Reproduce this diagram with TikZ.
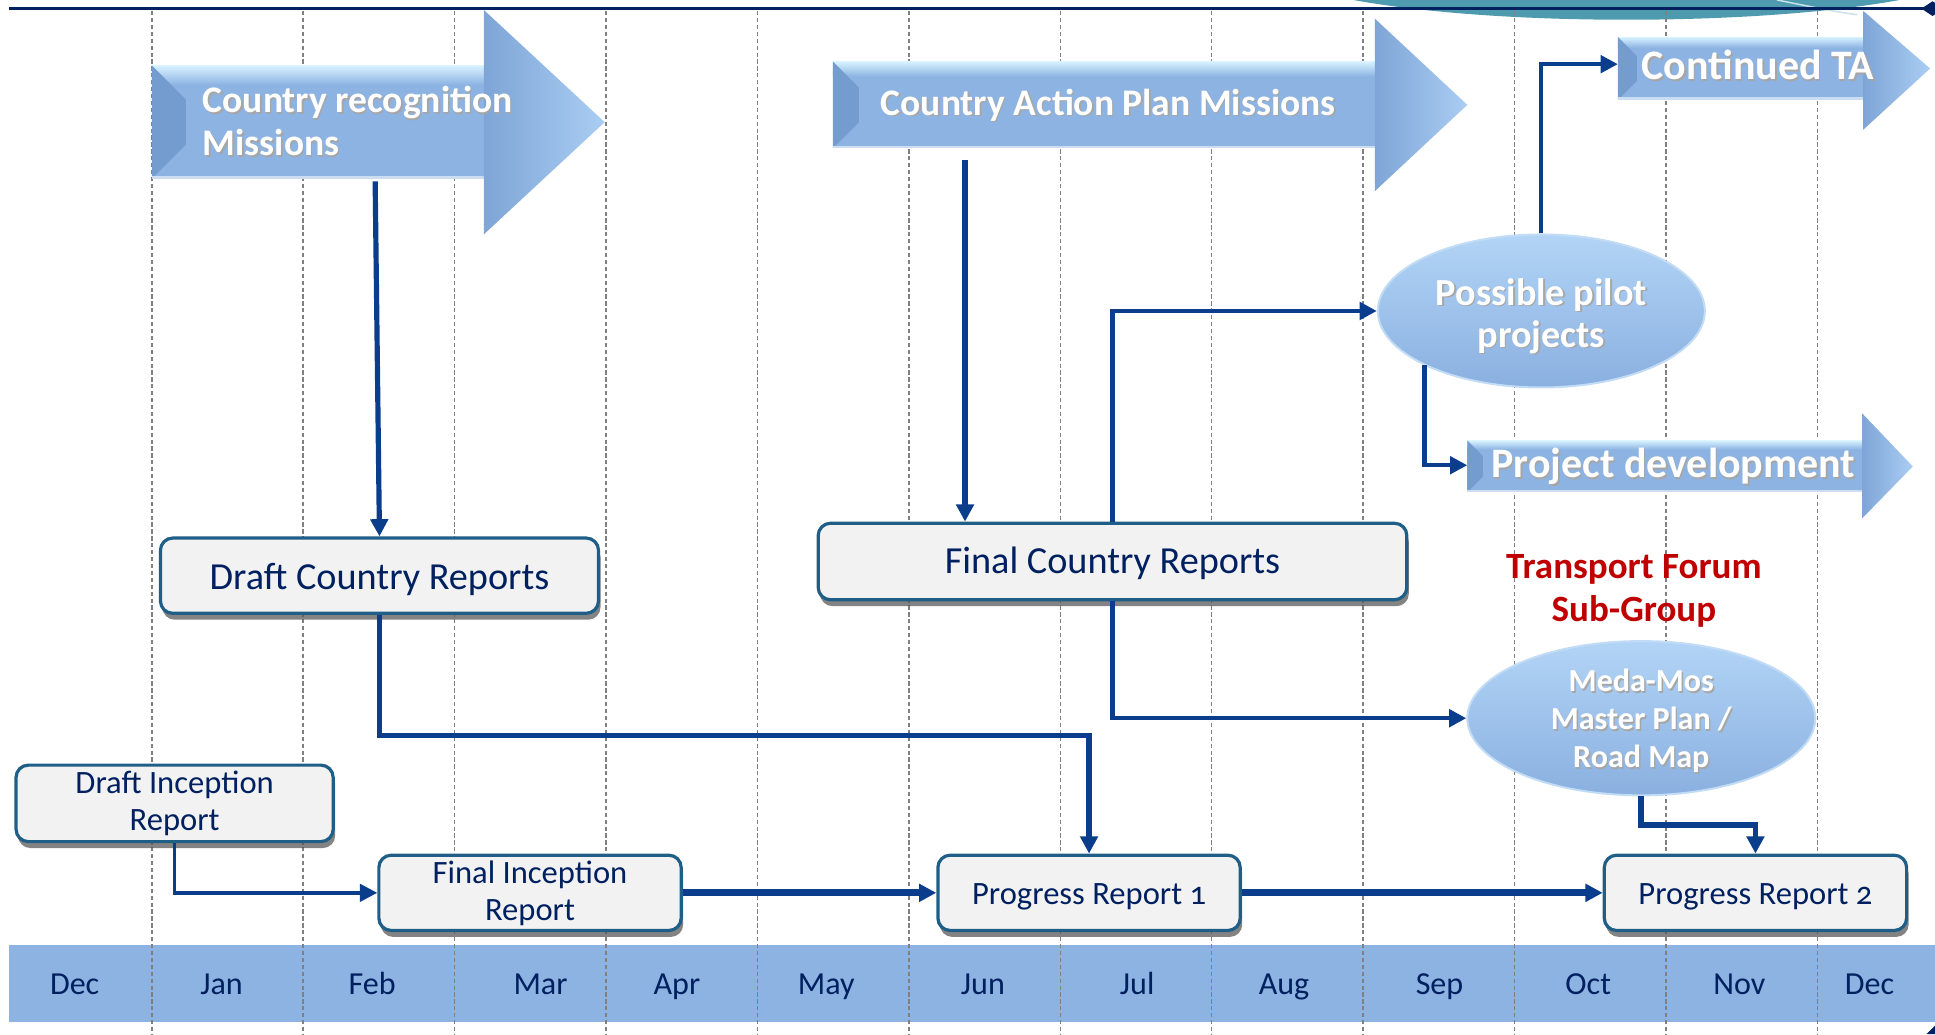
\documentclass[tikz,border=0pt]{standalone}
\usepackage{fontspec}
\setmainfont{Carlito}
\usetikzlibrary{arrows.meta,shapes.geometric,shadows,calc}

\definecolor{navy}{RGB}{0,32,96}
\definecolor{connc}{RGB}{10,62,140}
\definecolor{boxborder}{RGB}{31,95,135}
\definecolor{boxfill}{RGB}{242,242,242}
\definecolor{monthbar}{RGB}{141,179,226}
\definecolor{arrowblue}{RGB}{141,179,226}
\definecolor{arrowhl}{RGB}{215,242,255}
\definecolor{arrowdark}{RGB}{116,156,206}
\definecolor{headdark}{RGB}{126,165,214}
\definecolor{arrowlight}{RGB}{170,205,243}
\definecolor{elltop}{RGB}{178,212,246}
\definecolor{ellbot}{RGB}{138,176,224}
\definecolor{ellrim}{RGB}{195,220,245}
\definecolor{darkred}{RGB}{192,0,0}
\definecolor{gridc}{RGB}{128,128,128}
\definecolor{tealc}{RGB}{78,155,176}

\newcommand{\myarrow}[8]{%
  \pgfmathsetmacro{\ym}{(#5+#6)/2}%
  \pgfmathsetmacro{\bv}{0.3*(#6-#5)}%
  \pgfmathsetmacro{\hh}{#5+0.17*(#6-#5)}%
  \fill[arrowblue] (#2,#5) rectangle (#3,#6);
  \shade[top color=arrowhl, bottom color=arrowblue] (#2,#5) rectangle (#3,\hh);
  \fill[arrowdark] (#2,#5) -- ({#2+\bv},{#5+\bv}) -- ({#2+\bv},{#6-\bv}) -- (#2,#6) -- cycle;
  \fill[white!55!arrowblue] (#2,{#6-2}) rectangle (#3,#6);
  \shade[left color=headdark, right color=arrowlight] (#3,#7) -- (#4,\ym) -- (#3,#8) -- cycle;
}

\begin{document}
\begin{tikzpicture}[x=0.5pt,y=-0.5pt,
  conn/.style={draw=connc, line width=2.1pt, -{Triangle[length=7pt,width=7pt]}},
  rbox/.style={draw=boxborder, line width=1.3pt, fill=boxfill, rounded corners=5pt,
     text=navy, inner sep=0pt, align=center,
     drop shadow={shadow xshift=0.8pt, shadow yshift=-2.6pt, fill=black!65, opacity=0.75}},
  ell/.style={ellipse, inner sep=0pt, top color=elltop, bottom color=ellbot, draw=ellrim, line width=0.8pt},
  wtxt/.style={text=white, font=\bfseries, align=center, inner sep=0pt},
  stxt/.style={text=black!35, font=\bfseries, align=center, inner sep=0pt},
  month/.style={text=navy, font=\fontsize{13}{15}\selectfont, anchor=base, inner sep=0pt},
  gridline/.style={draw=gridc, line width=0.6pt, dash pattern=on 1.7pt off 1.1pt}
]
\useasboundingbox (0,0) rectangle (1568,838);

% top decoration
\fill[tealc] (1318,-30) ellipse [x radius=146pt, y radius=23pt];
\draw[white!70!tealc, line width=0.6pt] (1440,0) .. controls (1470,6) and (1490,10) .. (1505,12);

% month bar
\fill[monthbar] (7,766) rectangle (1568,828);

% grid
\foreach \k in {0,...,11} {
  \draw[gridline] ({123+122.7*\k},9) -- ({123+122.7*\k},838);
}

% top line
\draw[navy, line width=1.4pt] (7,7) -- (1568,7);
\fill[navy] (1557,7) -- (1566,1) -- (1575,7) -- (1566,13) -- cycle;
\fill[navy] (1561,838) -- (1568,831) -- (1568,838) -- cycle;

% months
\foreach \m/\x in {Dec/60.5,Jan/179.5,Feb/301.5,Mar/438,Apr/548.5,May/669.5,Jun/796.5,Jul/921.5,Aug/1040.5,Sep/1166.5,Oct/1287,Nov/1409.5,Dec/1515}
  \node[month] (m-\x) at (\x,806) {\m};

% big arrows
\myarrow{crm}{123}{392}{490}{53}{145}{8}{190}
\myarrow{cap}{675}{1114}{1189}{50}{120}{15}{155}
\myarrow{cta}{1311}{1510}{1564}{30}{81}{9}{105}
\myarrow{pd}{1189}{1509}{1550}{357}{399}{335}{420}

\coordinate (crm-s) at (304,147);
\coordinate (cap-s) at (782,130);
\coordinate (cta-w) at (1311,52);
\coordinate (pd-w) at (1189,377);

% arrow texts
\node[stxt, anchor=west, align=left, font=\bfseries\fontsize{15.2}{17.5}\selectfont] (crm-ts) at (165.2,99.5) {Country recognition\\Missions};
\node[wtxt, anchor=west, align=left, font=\bfseries\fontsize{15.2}{17.5}\selectfont] (crm-t) at (164,98) {Country recognition\\Missions};
\node[stxt, font=\bfseries\fontsize{15.2}{17.5}\selectfont] (cap-ts) at (899.2,86.5) {Country Action Plan Missions};
\node[wtxt, font=\bfseries\fontsize{15.2}{17.5}\selectfont] (cap-t) at (898,85) {Country Action Plan Missions};
\node[stxt, font=\bfseries\fontsize{17}{19}\selectfont] (cta-ts) at (1425.7,54.5) {Continued TA};
\node[wtxt, font=\bfseries\fontsize{17}{19}\selectfont] (cta-t) at (1424.5,53) {Continued TA};
\node[stxt, font=\bfseries\fontsize{17}{19}\selectfont] (pd-ts) at (1357.2,379.5) {Project development};
\node[wtxt, font=\bfseries\fontsize{17}{19}\selectfont] (pd-t) at (1356,378) {Project development};

% boxes
\node[rbox, minimum width=177.5pt, minimum height=30.5pt, font=\fontsize{15.5}{18}\selectfont] (dcr) at (307.5,466.5) {\raisebox{-5.6pt}[0pt][0pt]{Draft Country Reports}};
\node[rbox, minimum width=238.5pt, minimum height=31pt, font=\fontsize{15.5}{18}\selectfont] (fcr) at (901.5,455) {\raisebox{-5pt}[0pt][0pt]{Final Country Reports}};
\node[rbox, minimum width=128.5pt, minimum height=31pt, font=\fontsize{13.2}{15}\selectfont] (dir) at (141.5,651) {Draft Inception\\Report};
\node[rbox, minimum width=122.5pt, minimum height=30.5pt, font=\fontsize{13.2}{15}\selectfont] (fir) at (429.5,723.5) {Final Inception\\Report};
\node[rbox, minimum width=122.5pt, minimum height=30.5pt, font=\fontsize{13.2}{15}\selectfont\addfontfeature{Numbers=OldStyle}] (pr1) at (882.5,723.5) {\raisebox{-4.7pt}[0pt][0pt]{Progress Report 1}};
\node[rbox, minimum width=122.5pt, minimum height=30.5pt, font=\fontsize{13.2}{15}\selectfont\addfontfeature{Numbers=OldStyle}] (pr2) at (1422.5,723.5) {\raisebox{-4.7pt}[0pt][0pt]{Progress Report 2}};

% ellipses
\node[ell, minimum width=132.5pt, minimum height=62pt] (pilot) at (1249,252) {};
\node[ell, minimum width=141pt, minimum height=62.5pt] (meda) at (1330,582) {};
\node[stxt, font=\bfseries\fontsize{15.5}{17}\selectfont] (pilot-ts) at (1250.2,257.5) {Possible pilot\\projects};
\node[wtxt, font=\bfseries\fontsize{15.5}{17}\selectfont] (pilot-t) at (1249,256) {Possible pilot\\projects};
\node[stxt, font=\bfseries\fontsize{13}{15.5}\selectfont] (meda-ts) at (1331.2,585.5) {Meda-Mos\\Master Plan /\\Road Map};
\node[wtxt, font=\bfseries\fontsize{13}{15.5}\selectfont] (meda-t) at (1330,584) {Meda-Mos\\Master Plan /\\Road Map};

% transport forum label
\node[text=darkred, font=\bfseries\fontsize{15}{17.5}\selectfont, align=center, inner sep=0pt] (tf) at (1324,479) {Transport Forum\\Sub-Group};

% connectors
\draw[conn] (crm-s) -- (dcr.north);
\draw[conn] (cap-s) -- (cap-s |- fcr.north);
\draw[conn] (dcr.south) -- ++(0,98) -| (pr1.north);
\draw[conn, line width=1.8pt] (fcr.north) |- (pilot.west);
\draw[conn, line width=1.8pt] (fcr.south) |- (meda.west);
\draw[conn, line width=1.7pt] (pilot.north) |- (cta-w);
\draw[conn, line width=1.7pt] (pilot.205) |- (pd-w);
\draw[conn, line width=2.3pt] (meda.south) -- ++(0,23.5) -| (pr2.north);
\draw[conn, line width=1.4pt] (dir.south) |- (fir.west);
\draw[conn, line width=2.8pt] (fir.east) -- (pr1.west);
\draw[conn, line width=2.8pt] (pr1.east) -- (pr2.west);
\end{tikzpicture}
\end{document}
